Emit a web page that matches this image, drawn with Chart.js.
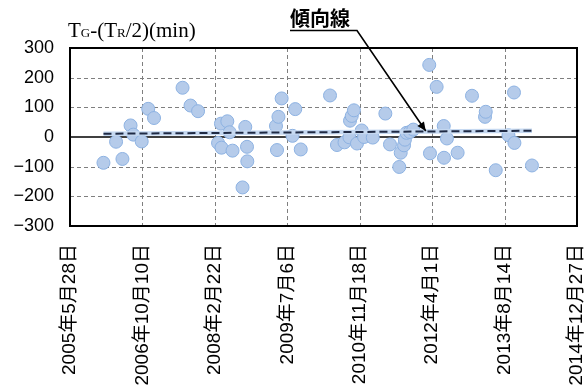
<!DOCTYPE html>
<html><head><meta charset="utf-8">
<script src="https://cdn.jsdelivr.net/npm/chart.js@4/dist/chart.umd.min.js"></script>
<style>html,body{margin:0;padding:0;background:#fff;overflow:hidden}</style>
</head><body>
<canvas id="c" width="588" height="385"></canvas>
<script>
// ---- data ----
const axisStart = '2005-05-28';
const axisEnd = '2014-12-27';
const tickStepDays = 500;
const yMin = -300, yMax = 300, yStep = 100;

const obsDates = [
 '2006-01-14','2006-04-11','2006-05-25','2006-07-20','2006-08-08','2006-10-05','2006-11-19','2006-12-29',
 '2007-07-14','2007-09-07','2007-10-29',
 '2008-03-15','2008-04-04','2008-04-08','2008-05-18','2008-06-03','2008-06-23','2008-08-31','2008-09-19','2008-10-01','2008-10-03',
 '2009-04-19','2009-04-26','2009-05-06','2009-05-28','2009-08-11','2009-08-30','2009-10-07',
 '2010-04-27','2010-06-14','2010-08-05','2010-09-08','2010-09-12','2010-09-24','2010-10-09','2010-10-30','2010-12-02','2010-12-18',
 '2011-02-16','2011-05-14','2011-06-15','2011-08-18','2011-08-28','2011-09-20','2011-09-26','2011-10-07','2011-10-31','2011-11-23',
 '2012-03-12','2012-03-17','2012-05-02','2012-06-20','2012-06-22','2012-07-12','2012-09-24',
 '2013-01-01','2013-04-01','2013-04-06','2013-06-14','2013-09-10','2013-10-18','2013-10-21',
 '2014-02-19'
];
const obsValues = [
 -87,-16,-74,39,8,-15,95,64,
 166,106,87,
 -20,45,-36,53,16,-46,-170,34,-33,-82,
 37,-44,68,130,4,94,-42,
 140,-27,-18,-1,55,71,90,-22,22,0,
 -2,79,-25,-101,-53,-28,-9,14,17,25,
 243,-55,169,37,-70,-5,-53,
 139,68,85,-112,6,150,-20,
 -96
];
const trendDates = ['2006-01-14','2014-02-19'];
const trendValues = [11, 21];

const annotationText = '傾向線';
const annotationTipDate = '2012-02-17';
const annotationTipValue = 20;

// ---- helpers ----
const DAY = 86400000;
const base = Date.UTC(2005, 4, 28);
function toDays(s){ const [y,m,d] = s.split('-').map(Number); return Math.round((Date.UTC(y,m-1,d) - base)/DAY); }
function fmtDay(v){ const dt = new Date(base + v*DAY); return dt.getUTCFullYear()+'年'+(dt.getUTCMonth()+1)+'月'+dt.getUTCDate()+'日'; }

const obsPoints = obsDates.map((d,i)=>({x: toDays(d), y: obsValues[i]}));
const trendPoints = trendDates.map((d,i)=>({x: toDays(d), y: trendValues[i]}));

const SANS = '"Liberation Sans", "Noto Sans CJK JP", Arial, sans-serif';

const framePlugin = {
  id: 'frame',
  beforeDatasetsDraw(chart){
    const {ctx, chartArea: a, scales: {x, y}} = chart;
    ctx.save();
    ctx.strokeStyle = '#7f7f7f'; ctx.lineWidth = 1; ctx.setLineDash([4,3]);
    x.ticks.forEach(t => {
      if (t.value <= x.min || t.value >= x.max) return;
      const px = Math.round(x.getPixelForValue(t.value)) + 0.5;
      ctx.beginPath(); ctx.moveTo(px, a.top); ctx.lineTo(px, a.bottom); ctx.stroke();
    });
    y.ticks.forEach(t => {
      if (t.value === 0 || t.value <= y.min || t.value >= y.max) return;
      const py = Math.round(y.getPixelForValue(t.value)) + 0.5;
      ctx.beginPath(); ctx.moveTo(a.left, py); ctx.lineTo(a.right, py); ctx.stroke();
    });
    ctx.setLineDash([]);
    ctx.strokeStyle = '#000'; ctx.lineWidth = 1.5;
    const zy = y.getPixelForValue(0);
    ctx.beginPath(); ctx.moveTo(a.left, zy); ctx.lineTo(a.right, zy); ctx.stroke();
    ctx.lineWidth = 2;
    ctx.strokeRect(a.left, a.top, a.right - a.left, a.bottom - a.top);
    ctx.restore();
  },
  afterDraw(chart){
    const {ctx, scales: {x, y}} = chart;
    ctx.save();
    ctx.fillStyle = '#000'; ctx.textBaseline = 'alphabetic'; ctx.textAlign = 'left';
    const parts = [['T',21],['G',13],['-(T',21],['R',13],['/2)(min)',21]];
    let tx = 68; const ty = 37;
    parts.forEach(([s,sz]) => { ctx.font = sz + 'px "Liberation Serif", "Times New Roman", serif'; ctx.fillText(s, tx, ty); tx += ctx.measureText(s).width; });
    ctx.font = 'bold 20px "Noto Sans CJK JP", sans-serif';
    ctx.fillText(annotationText, 290, 26);
    const w = ctx.measureText(annotationText).width;
    const sx = 290 + w + 7, sy = 30.5;
    const tipX = x.getPixelForValue(toDays(annotationTipDate));
    const tipY = y.getPixelForValue(annotationTipValue);
    ctx.strokeStyle = '#000'; ctx.lineWidth = 1.6;
    ctx.beginPath(); ctx.moveTo(290, sy); ctx.lineTo(sx, sy); ctx.lineTo(tipX, tipY); ctx.stroke();
    const ang = Math.atan2(tipY - sy, tipX - sx), L = 9, H = 4;
    ctx.fillStyle = '#000';
    ctx.beginPath();
    ctx.moveTo(tipX, tipY);
    ctx.lineTo(tipX - L*Math.cos(ang) + H*Math.sin(ang), tipY - L*Math.sin(ang) - H*Math.cos(ang));
    ctx.lineTo(tipX - L*Math.cos(ang) - H*Math.sin(ang), tipY - L*Math.sin(ang) + H*Math.cos(ang));
    ctx.closePath(); ctx.fill();
    ctx.restore();
  }
};

new Chart(document.getElementById('c'), {
  type: 'scatter',
  data: {
    datasets: [
      { data: obsPoints, order: 2, pointRadius: 6.5, pointHoverRadius: 6.5, borderWidth: 1,
        backgroundColor: '#B5CBEA', borderColor: '#8DB2E2' },
      { data: trendPoints, order: 0, showLine: true, pointRadius: 0, borderColor: '#1F2A44', borderWidth: 2, borderDash: [8,4] },
      { data: trendPoints, order: 1, showLine: true, pointRadius: 0, borderColor: '#C6D9F1', borderWidth: 4.5 }
    ]
  },
  options: {
    responsive: false, animation: false, devicePixelRatio: 1,
    layout: { padding: { top: 48, right: 11, left: 0, bottom: 0 } },
    plugins: { legend: { display: false }, tooltip: { enabled: false } },
    scales: {
      x: {
        type: 'linear', min: toDays(axisStart), max: toDays(axisEnd),
        grid: { display: false, drawTicks: false }, border: { display: false },
        ticks: { stepSize: tickStepDays, autoSkip: false, minRotation: 90, maxRotation: 90, padding: 18,
          color: '#000', font: { family: SANS, size: 19 }, callback: v => fmtDay(v) },
        afterFit: s => { s.height = 159; s.paddingLeft = 0; s.paddingRight = 0; }
      },
      y: {
        min: yMin, max: yMax,
        grid: { display: false, drawTicks: false }, border: { display: false },
        ticks: { stepSize: yStep, padding: 16, color: '#000', font: { family: SANS, size: 18 },
          callback: v => String(v).replace('-', '\u2212') },
        afterFit: s => { s.width = 70; s.paddingTop = 0; s.paddingBottom = 0; }
      }
    }
  },
  plugins: [framePlugin]
});
</script>
</body></html>
